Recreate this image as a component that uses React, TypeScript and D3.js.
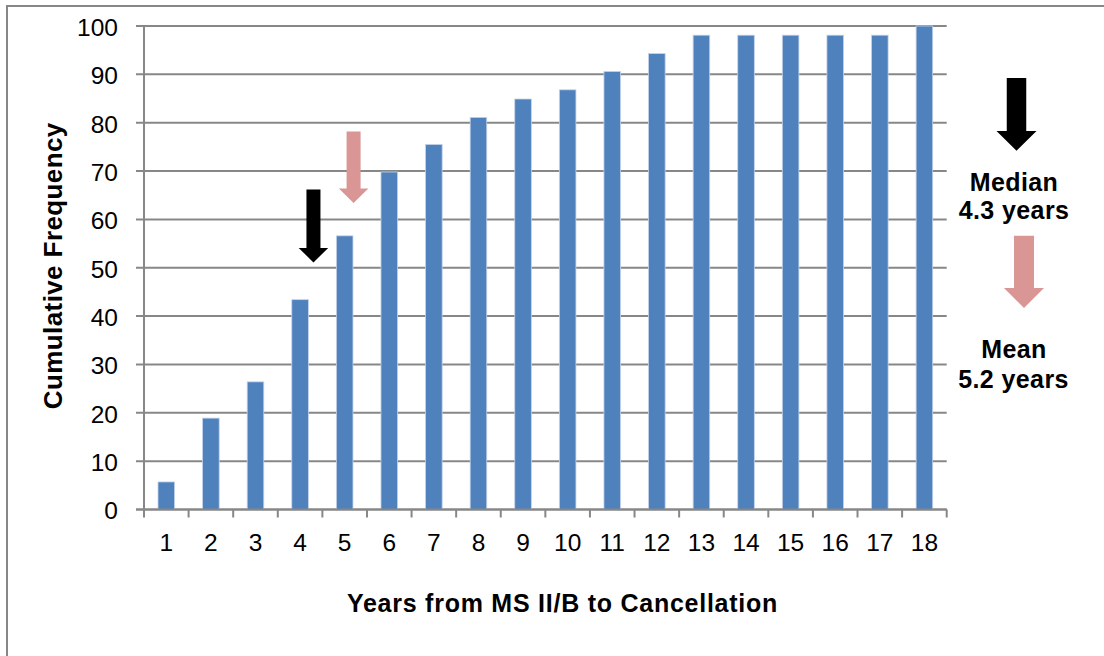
import React from 'react';
import * as d3 from 'd3';

const WIDTH = 1104;
const HEIGHT = 656;
const PLOT = { left: 144, right: 946.7, top: 26, bottom: 509.5 };
const FONT = '"Liberation Sans", Arial, sans-serif';

const years = [1, 2, 3, 4, 5, 6, 7, 8, 9, 10, 11, 12, 13, 14, 15, 16, 17, 18];
const cumulativeFreq = [5.7, 18.9, 26.4, 43.4, 56.6, 69.8, 75.5, 81.1, 84.9, 86.8, 90.6, 94.3, 98.1, 98.1, 98.1, 98.1, 98.1, 100];
const yTicks = [0, 10, 20, 30, 40, 50, 60, 70, 80, 90, 100];

// in-chart markers: [x in years, top value, tip value]
const medianMarker = [4.3, 66.2, 51.1];
const meanMarker = [5.2, 78.2, 63.4];

const BAR_COLOR = '#4F81BD';
const GRID = '#878787';
const PINK = '#D99694';

function arrowPath(cx: number, top: number, headY: number, tip: number, shaftW: number, headW: number) {
  const s = shaftW / 2;
  const h = headW / 2;
  return `M${cx - s},${top}L${cx + s},${top}L${cx + s},${headY}L${cx + h},${headY}L${cx},${tip}L${cx - h},${headY}L${cx - s},${headY}Z`;
}

export default function App() {
  const x = d3.scaleBand<number>().domain(years).range([PLOT.left, PLOT.right]).padding(0);
  const xLin = d3.scaleLinear().domain([0.5, 18.5]).range([PLOT.left, PLOT.right]);
  const y = d3.scaleLinear().domain([0, 100]).range([PLOT.bottom, PLOT.top]);
  const barW = x.bandwidth() * 0.372;

  const marker = (m: number[], color: string) => {
    const cx = xLin(m[0]);
    const top = y(m[1]);
    const tip = y(m[2]);
    const headY = tip - 14.5;
    return <path d={arrowPath(cx, top, headY, tip, 14, 29.5)} fill={color} />;
  };

  const note = { fontSize: 25, fontWeight: 'bold' as const, letterSpacing: 0.4 };

  return (
    <div>
      <style>{`body{margin:0}`}</style>
      <svg width={WIDTH} height={HEIGHT} style={{ display: 'block', background: '#fff', fontFamily: FONT }}>
        {/* outer frame */}
        <rect x={7} y={6} width={WIDTH + 20} height={HEIGHT + 20} fill="none" stroke={GRID} strokeWidth={2} />

        {/* gridlines + y ticks */}
        {yTicks.map((t) => (
          <g key={t}>
            <line x1={PLOT.left - 8} x2={PLOT.right} y1={y(t)} y2={y(t)} stroke={GRID} strokeWidth={2} />
            <text x={118} y={y(t)} dy="0.4em" textAnchor="end" fontSize={24.5} fill="#000">
              {t}
            </text>
          </g>
        ))}

        {/* y axis */}
        <line x1={PLOT.left} x2={PLOT.left} y1={PLOT.top} y2={PLOT.bottom + 8} stroke={GRID} strokeWidth={2} />

        {/* x ticks */}
        {years.map((d) => (
          <line key={d} x1={(x(d) as number) + x.bandwidth()} x2={(x(d) as number) + x.bandwidth()} y1={PLOT.bottom} y2={PLOT.bottom + 8} stroke={GRID} strokeWidth={2} />
        ))}

        {/* bars */}
        {years.map((d, i) => (
          <rect
            key={d}
            x={(x(d) as number) + (x.bandwidth() - barW) / 2}
            y={y(cumulativeFreq[i])}
            width={barW}
            height={y(0) - y(cumulativeFreq[i])}
            fill={BAR_COLOR}
            stroke="#C4D3E8"
            strokeWidth={0.8}
          />
        ))}

        {/* x axis line on top */}
        <line x1={PLOT.left - 8} x2={PLOT.right} y1={PLOT.bottom} y2={PLOT.bottom} stroke={GRID} strokeWidth={2} />

        {/* x tick labels */}
        {years.map((d) => (
          <text key={d} x={(x(d) as number) + x.bandwidth() / 2} y={551} textAnchor="middle" fontSize={24.5} fill="#000">
            {d}
          </text>
        ))}

        {/* markers */}
        {marker(medianMarker, '#000')}
        {marker(meanMarker, PINK)}

        {/* axis titles */}
        <text x={562.5} y={611.5} textAnchor="middle" fontSize={25} fontWeight="bold" letterSpacing={0.75}>
          Years from MS II/B to Cancellation
        </text>
        <text transform={`translate(62,${(PLOT.top + PLOT.bottom) / 2 - 2}) rotate(-90)`} textAnchor="middle" fontSize={26} fontWeight="bold" letterSpacing={0.4}>
          Cumulative Frequency
        </text>

        {/* side annotations */}
        <path d={arrowPath(1016.5, 78, 131, 150.7, 19.5, 40)} fill="#000" />
        <text x={1014} y={190.7} textAnchor="middle" {...note}>Median</text>
        <text x={1014} y={219} textAnchor="middle" {...note}>4.3 years</text>
        <path d={arrowPath(1024, 235.7, 288, 308, 20, 40)} fill={PINK} />
        <text x={1014} y={358} textAnchor="middle" {...note}>Mean</text>
        <text x={1013.5} y={388} textAnchor="middle" {...note}>5.2 years</text>
      </svg>
    </div>
  );
}
